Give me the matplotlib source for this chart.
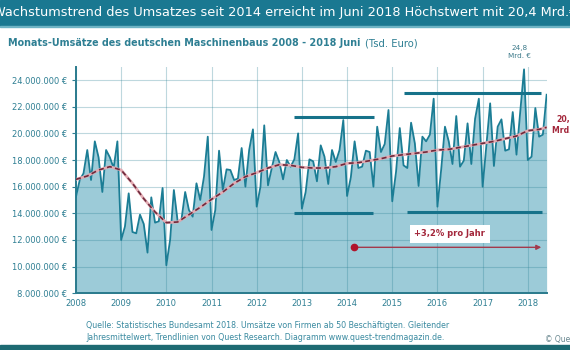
import matplotlib
matplotlib.use("Agg")
import matplotlib.pyplot as plt
from matplotlib.ticker import FuncFormatter
import numpy as np

# monthly sales, Jan 2008 - Jun 2018, in million (Tsd. Euro)
sales = [
    15.25, 16.5, 17.0, 18.75, 16.5, 19.4, 18.2, 15.6, 18.75, 18.2, 17.4, 19.4,     # 2008
    12.0, 13.0, 15.5, 12.6, 12.5, 13.9, 13.2, 11.05, 15.2, 13.3, 13.4, 15.9,      # 2009
    10.1, 12.0, 15.75, 13.4, 13.5, 15.6, 14.25, 13.75, 16.25, 15.0, 16.75, 19.75,  # 2010
    12.75, 14.25, 18.7, 15.75, 17.3, 17.25, 16.5, 16.6, 18.9, 16.0, 18.75, 20.3,   # 2011
    14.5, 16.0, 20.6, 16.1, 17.4, 18.6, 17.85, 16.55, 18.0, 17.5, 18.05, 20.0,     # 2012
    14.35, 15.6, 18.05, 17.9, 16.4, 19.1, 18.25, 16.2, 18.75, 17.85, 18.75, 21.0,  # 2013
    15.3, 16.7, 19.4, 17.4, 17.5, 18.7, 18.6, 16.0, 20.5, 18.6, 19.2, 21.75,       # 2014
    14.9, 17.1, 20.4, 17.6, 17.4, 20.8, 19.25, 16.05, 19.75, 19.4, 19.9, 22.6,     # 2015
    14.5, 17.3, 20.5, 19.4, 17.7, 21.3, 17.5, 17.95, 20.75, 17.7, 21.1, 22.6,      # 2016
    16.0, 19.1, 22.25, 17.55, 20.5, 21.05, 18.7, 18.8, 21.6, 18.4, 21.65, 24.8,    # 2017
    18.0, 18.25, 21.9, 19.75, 19.9, 22.9,                                          # 2018
]

# gliding annual mean, read quarterly (month offset from Jan 2008)
trend_month = [0, 3, 6, 9, 12, 15, 18, 21, 24, 27, 30, 33, 36, 39, 42, 45,
               48, 51, 54, 57, 60, 63, 66, 69, 72, 75, 78, 81, 84, 87, 90, 93,
               96, 99, 102, 105, 108, 111, 114, 117, 120, 123, 125]
trend_value = [16.55, 16.8, 17.25, 17.5, 17.25, 16.25, 15.1, 14.1, 13.3, 13.35, 13.9, 14.45,
               15.05, 15.6, 16.25, 16.75, 17.05, 17.4, 17.65, 17.6, 17.45, 17.4, 17.4, 17.5,
               17.75, 17.8, 17.95, 18.1, 18.3, 18.4, 18.5, 18.6, 18.75, 18.8, 18.95, 19.1,
               19.25, 19.4, 19.6, 19.8, 20.2, 20.3, 20.45]

# channel lines: (from, to, level)
channels = [(2012.82, 2014.6, 21.25), (2012.83, 2014.57, 14.05),
            (2015.26, 2018.3, 23.0), (2015.32, 2018.32, 14.1)]
growth_start = (2014.15, 11.45)
growth_end = 2018.36
growth_label = "+3,2% pro Jahr"

teal = "#1b7d95"
text_teal = "#2e7f93"
red = "#a3263a"

x = 2008 + np.arange(len(sales)) / 12
tx = 2008 + np.array(trend_month) / 12

fig = plt.figure(figsize=(5.7, 3.5), dpi=100)
plt.rcParams['font.family'] = ['DejaVu Sans']

# header band and bottom stripe
fig.patches.append(plt.Rectangle((0, 0.926), 1, 0.074, transform=fig.transFigure, color="#1a7891", zorder=0))
fig.patches.append(plt.Rectangle((0, 0.922), 1, 0.005, transform=fig.transFigure, color="#6db3c4", zorder=0))
fig.patches.append(plt.Rectangle((0, 0), 1, 0.013, transform=fig.transFigure, color="#1d6a72", zorder=0))
fig.text(0.5, 0.963, "Wachstumstrend des Umsatzes seit 2014 erreicht im Juni 2018 Höchstwert mit 20,4 Mrd.€",
         color="white", fontsize=9.3, ha="center", va="center")
fig.text(0.014, 0.877, "Monats-Umsätze des deutschen Maschinenbaus 2008 - 2018 Juni",
         color=text_teal, fontsize=6.9, fontweight="bold", ha="left", va="center")
fig.text(0.64, 0.877, "(Tsd. Euro)", color=text_teal, fontsize=7.2, ha="left", va="center")

ax = fig.add_axes([0.1333, 0.162, 0.8257, 0.6474])
ax.fill_between(x, 0, sales, color="#9ccbd8", zorder=1, lw=0)
ax.plot(x, sales, color=teal, lw=1.3, zorder=3)
ax.plot(tx, trend_value, color="#e2aab2", lw=2.0, zorder=4)
ax.plot(tx, trend_value, color="#6e2a3c", lw=1.2, ls=(0, (3, 2)), zorder=5)

for x0, x1, lvl in channels:
    ax.plot([x0, x1], [lvl, lvl], color="#16728a", lw=2.2, zorder=6, solid_capstyle="butt")

ax.annotate("", xy=(growth_end, growth_start[1]), xytext=growth_start,
            arrowprops=dict(arrowstyle="-|>", color="#a33a4c", lw=1.0, mutation_scale=7), zorder=6)
ax.plot(*growth_start, "o", color="#b0142c", ms=4.5, zorder=7)
ax.text(2016.27, 12.45, growth_label, color=red, fontsize=6, fontweight="bold", ha="center", va="center",
        bbox=dict(boxstyle="square,pad=0.55", fc="white", ec="none"), zorder=7)

ax.text(2017.82, 26.1, "24,8\nMrd. €", color="#3d7a8a", fontsize=5.2, ha="center", va="center",
        linespacing=1.3, clip_on=False)
ax.text(2018.84, 20.65, "20,4\nMrd. €", color=red, fontsize=5.6, fontweight="bold", ha="center",
        va="center", linespacing=1.3, clip_on=False)

ax.set_xlim(2008, x[-1])
ax.set_ylim(8, 25)
ax.set_yticks(np.arange(8, 25, 2))
ax.set_xticks(np.arange(2008, 2019))
ax.yaxis.set_major_formatter(FuncFormatter(lambda v, p: f"{int(round(v * 1e6)):,} €".replace(",", ".")))
ax.grid(True, color="#2a7f93", alpha=0.3, lw=0.8)
ax.set_axisbelow(False)
for s in ["top", "right"]:
    ax.spines[s].set_visible(False)
for s in ["left", "bottom"]:
    ax.spines[s].set_color("#2a7a8c")
    ax.spines[s].set_linewidth(1.4)
ax.tick_params(axis="both", colors=text_teal, labelsize=6, length=3, width=0.8)
ax.tick_params(axis="x", length=0, pad=4)

fig.text(0.151, 0.053, "Quelle: Statistisches Bundesamt 2018. Umsätze von Firmen ab 50 Beschäftigten. Gleitender\n"
         "Jahresmittelwert, Trendlinien von Quest Research. Diagramm www.quest-trendmagazin.de.",
         color="#3a8aa0", fontsize=5.7, ha="left", va="center", linespacing=1.5)
fig.text(0.957, 0.031, "© Quest Research", color="#6a8890", fontsize=5.5, ha="left", va="center")

plt.savefig("out.png", dpi=100)
